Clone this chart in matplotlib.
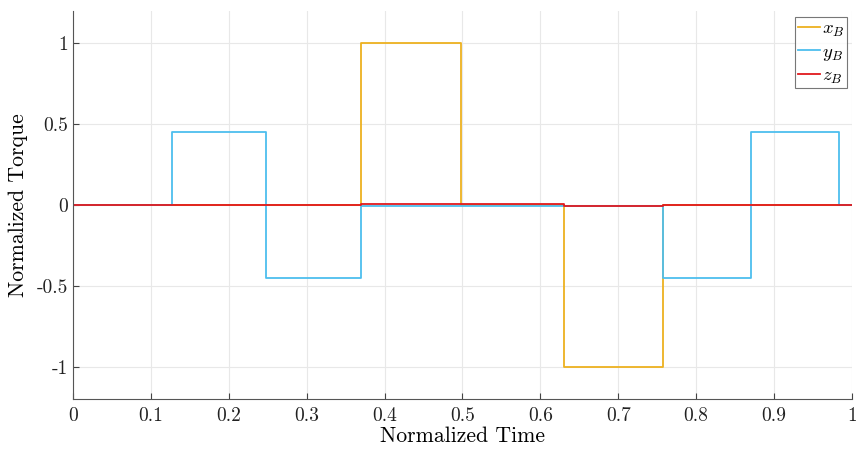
import matplotlib
matplotlib.use("Agg")
import matplotlib.pyplot as plt
import numpy as np

plt.rcParams['font.family'] = 'serif'
plt.rcParams['font.serif'] = ['cmr10', 'DejaVu Serif']
plt.rcParams['mathtext.fontset'] = 'cm'
plt.rcParams['axes.unicode_minus'] = False

# step breakpoints (normalized time) and values held after each breakpoint
t_edges = [0.0, 0.127, 0.248, 0.370, 0.498, 0.630, 0.757, 0.870, 0.983, 1.0]
x_vals = [0.0, 0.0, 0.0, 1.0, 0.0, -1.0, 0.0, 0.0, 0.0, 0.0]
y_vals = [0.0, 0.45, -0.45, -0.006, -0.006, -0.006, -0.45, 0.45, 0.0, 0.0]
z_vals = [0.0, 0.0, 0.0, 0.008, 0.002, -0.008, 0.0, 0.0, 0.0, 0.0]

xticks = [0, 0.1, 0.2, 0.3, 0.4, 0.5, 0.6, 0.7, 0.8, 0.9, 1]
xticklabels = ['0', '0.1', '0.2', '0.3', '0.4', '0.5', '0.6', '0.7', '0.8', '0.9', '1']
yticks = [-1, -0.5, 0, 0.5, 1]
yticklabels = ['-1', '-0.5', '0', '0.5', '1']

fig = plt.figure(figsize=(8.56, 4.5), dpi=100)
ax = fig.add_axes([0.0853, 0.1133, 0.910, 0.8631])

ax.step(t_edges, x_vals, where='post', color='#EDB120', lw=1.3, label='$x_B$')
ax.step(t_edges, y_vals, where='post', color='#4DBEEE', lw=1.3, label='$y_B$')
ax.step(t_edges, z_vals, where='post', color='#E0191E', lw=1.3, label='$z_B$')

ax.set_xlim(0, 1)
ax.set_ylim(-1.2, 1.2)
ax.set_xticks(xticks)
ax.set_xticklabels(xticklabels)
ax.set_yticks(yticks)
ax.set_yticklabels(yticklabels)
ax.tick_params(direction='in', length=4, labelsize=14, color='#444444', labelcolor='#222222')
ax.tick_params(axis='x', pad=6)
ax.grid(True, color='#e8e8e8', lw=0.8)
ax.set_axisbelow(True)
for s in ['top', 'right']:
    ax.spines[s].set_visible(False)
for s in ['left', 'bottom']:
    ax.spines[s].set_color('#555555')
    ax.spines[s].set_linewidth(0.8)

ax.set_xlabel('Normalized Time', fontsize=15.7, labelpad=1)
ax.set_ylabel('Normalized Torque', fontsize=15.7, labelpad=6)

leg = ax.legend(loc='upper right', fontsize=13.5, frameon=True, fancybox=False,
                handlelength=1.15, handletextpad=0.1, borderpad=0.15, labelspacing=0.2,
                borderaxespad=0.0, bbox_to_anchor=(0.9935, 0.983))
leg.get_frame().set_edgecolor('#555555')
leg.get_frame().set_linewidth(0.8)

fig.savefig('out.png', dpi=100)
